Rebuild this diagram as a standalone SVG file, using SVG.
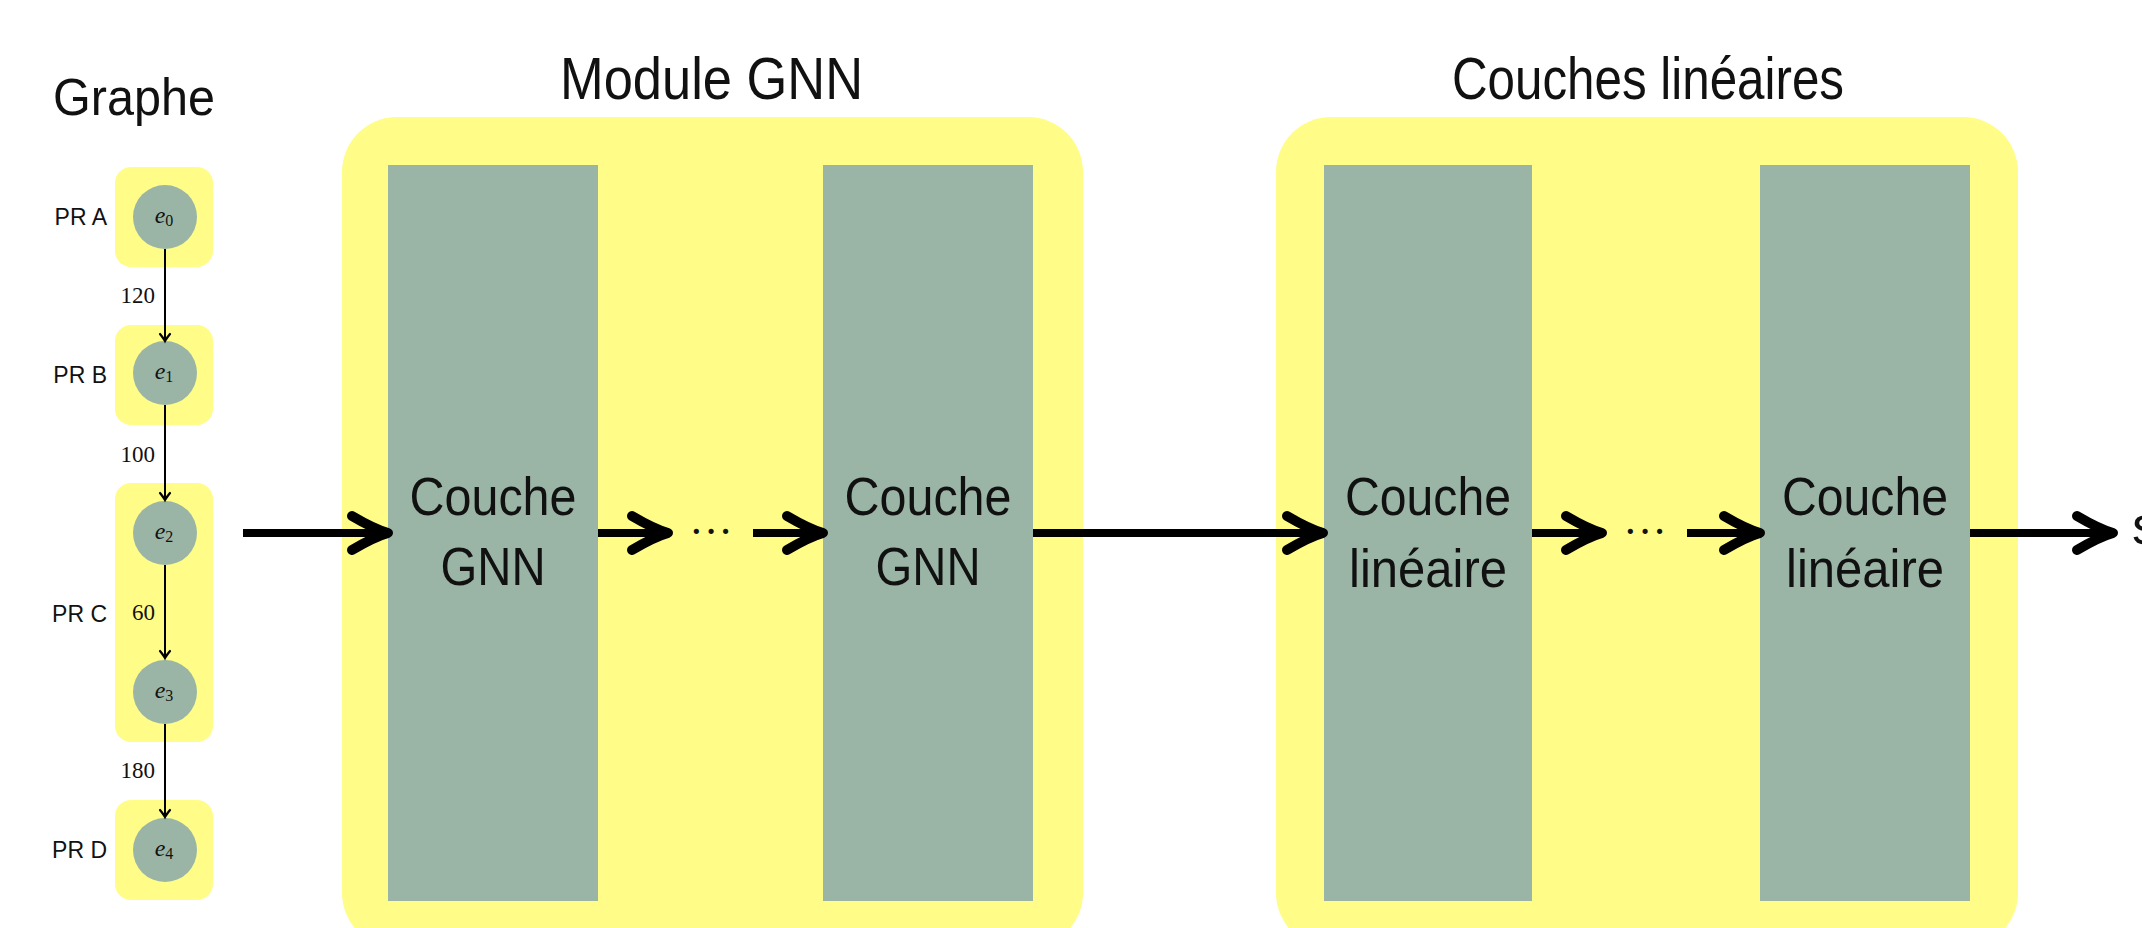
<svg xmlns="http://www.w3.org/2000/svg" width="2142" height="928" viewBox="0 0 2142 928">
<style>
.t{font-family:"Liberation Sans",Arial,sans-serif;fill:#111}
.s{font-family:"Liberation Serif","Times New Roman",serif;fill:#111}
.y{fill:#FFFD88}
.g{fill:#9AB5A6}
.thick{stroke:#000;stroke-width:8;fill:none}
.thin{stroke:#000;stroke-width:2;fill:none}
.title{font-size:60px}
.box{font-size:54px}
.pr{font-size:23px}
.num{font-size:23px}
.math{font-size:24px;font-style:italic}
.sub{font-size:16px;font-style:normal}
.dot{fill:#111}
</style>
<defs>
<marker id="big" markerUnits="userSpaceOnUse" markerWidth="60" markerHeight="50" viewBox="-50 -25 60 50" refX="-4" refY="0" orient="auto" overflow="visible">
<path d="M -36,-17 Q -14,-4 0,0 Q -14,4 -36,17" stroke="#000" stroke-width="10" fill="none" stroke-linecap="round" stroke-linejoin="round"/>
</marker>
<marker id="small" markerUnits="userSpaceOnUse" markerWidth="14" markerHeight="14" viewBox="-10 -7 14 14" refX="-1" refY="0" orient="auto" overflow="visible">
<path d="M -7,-5 Q -2,-1 0,0 Q -2,1 -7,5" stroke="#000" stroke-width="2.2" fill="none" stroke-linecap="round"/>
</marker>
</defs>

<text class="t" x="53" y="115" font-size="52" textLength="162" lengthAdjust="spacingAndGlyphs">Graphe</text>
<text class="t title" x="560" y="99" textLength="303" lengthAdjust="spacingAndGlyphs">Module GNN</text>
<text class="t title" x="1452" y="99" textLength="392" lengthAdjust="spacingAndGlyphs">Couches linéaires</text>

<g id="module-gnn">
<rect class="y" x="342" y="117" width="741" height="831" rx="55"/>
</g>
<g id="module-lin">
<rect class="y" x="1276" y="117" width="742" height="831" rx="55"/>
</g>

<g id="gnn1">
<rect class="g" x="388" y="165" width="210" height="736"/>
<text class="t box" x="493" y="515" text-anchor="middle" textLength="167" lengthAdjust="spacingAndGlyphs">Couche</text>
<text class="t box" x="493" y="585" text-anchor="middle" textLength="105" lengthAdjust="spacingAndGlyphs">GNN</text>
</g>
<g id="gnn2">
<rect class="g" x="823" y="165" width="210" height="736"/>
<text class="t box" x="928" y="515" text-anchor="middle" textLength="167" lengthAdjust="spacingAndGlyphs">Couche</text>
<text class="t box" x="928" y="585" text-anchor="middle" textLength="105" lengthAdjust="spacingAndGlyphs">GNN</text>
</g>
<g id="lin1">
<rect class="g" x="1324" y="165" width="208" height="736"/>
<text class="t box" x="1428" y="515" text-anchor="middle" textLength="166" lengthAdjust="spacingAndGlyphs">Couche</text>
<text class="t box" x="1428" y="587" text-anchor="middle" textLength="158" lengthAdjust="spacingAndGlyphs">linéaire</text>
</g>
<g id="lin2">
<rect class="g" x="1760" y="165" width="210" height="736"/>
<text class="t box" x="1865" y="515" text-anchor="middle" textLength="166" lengthAdjust="spacingAndGlyphs">Couche</text>
<text class="t box" x="1865" y="587" text-anchor="middle" textLength="158" lengthAdjust="spacingAndGlyphs">linéaire</text>
</g>

<g id="pr-a">
<rect class="y" x="115" y="167" width="98" height="100" rx="16"/>
<text class="t pr" x="107" y="225" text-anchor="end">PR A</text>
</g>
<g id="pr-b">
<rect class="y" x="115" y="325" width="98" height="100" rx="16"/>
<text class="t pr" x="107" y="383" text-anchor="end">PR B</text>
</g>
<g id="pr-c">
<rect class="y" x="115" y="483" width="98" height="259" rx="16"/>
<text class="t pr" x="107" y="622" text-anchor="end">PR C</text>
</g>
<g id="pr-d">
<rect class="y" x="115" y="800" width="98" height="100" rx="16"/>
<text class="t pr" x="107" y="858" text-anchor="end">PR D</text>
</g>

<g id="e0"><circle class="g" cx="165" cy="217" r="32"/><text class="s math" x="164" y="223" text-anchor="middle">e<tspan class="sub" dy="3">0</tspan></text></g>
<g id="e1"><circle class="g" cx="165" cy="373" r="32"/><text class="s math" x="164" y="379" text-anchor="middle">e<tspan class="sub" dy="3">1</tspan></text></g>
<g id="e2"><circle class="g" cx="165" cy="533" r="32"/><text class="s math" x="164" y="539" text-anchor="middle">e<tspan class="sub" dy="3">2</tspan></text></g>
<g id="e3"><circle class="g" cx="165" cy="692" r="32"/><text class="s math" x="164" y="698" text-anchor="middle">e<tspan class="sub" dy="3">3</tspan></text></g>
<g id="e4"><circle class="g" cx="165" cy="850" r="32"/><text class="s math" x="164" y="856" text-anchor="middle">e<tspan class="sub" dy="3">4</tspan></text></g>

<g id="connectors">
<line class="thin" x1="165" y1="249" x2="165" y2="340" marker-end="url(#small)"/>
<line class="thin" x1="165" y1="405" x2="165" y2="499" marker-end="url(#small)"/>
<line class="thin" x1="165" y1="565" x2="165" y2="657" marker-end="url(#small)"/>
<line class="thin" x1="165" y1="724" x2="165" y2="816" marker-end="url(#small)"/>
<text class="s num" x="155" y="303" text-anchor="end">120</text>
<text class="s num" x="155" y="462" text-anchor="end">100</text>
<text class="s num" x="155" y="620" text-anchor="end">60</text>
<text class="s num" x="155" y="778" text-anchor="end">180</text>

<line class="thick" x1="243" y1="533" x2="384" y2="533" marker-end="url(#big)"/>
<line class="thick" x1="598" y1="533" x2="664" y2="533" marker-end="url(#big)"/>
<line class="thick" x1="753" y1="533" x2="819" y2="533" marker-end="url(#big)"/>
<line class="thick" x1="1033" y1="533" x2="1319" y2="533" marker-end="url(#big)"/>
<line class="thick" x1="1532" y1="533" x2="1598" y2="533" marker-end="url(#big)"/>
<line class="thick" x1="1687" y1="533" x2="1756" y2="533" marker-end="url(#big)"/>
<line class="thick" x1="1970" y1="533" x2="2109" y2="533" marker-end="url(#big)"/>
</g>
<text class="s" x="711" y="546" font-size="44" text-anchor="middle">···</text>
<text class="s" x="1645" y="546" font-size="44" text-anchor="middle">···</text>
<text class="t box" x="2132" y="544">s</text>
</svg>
